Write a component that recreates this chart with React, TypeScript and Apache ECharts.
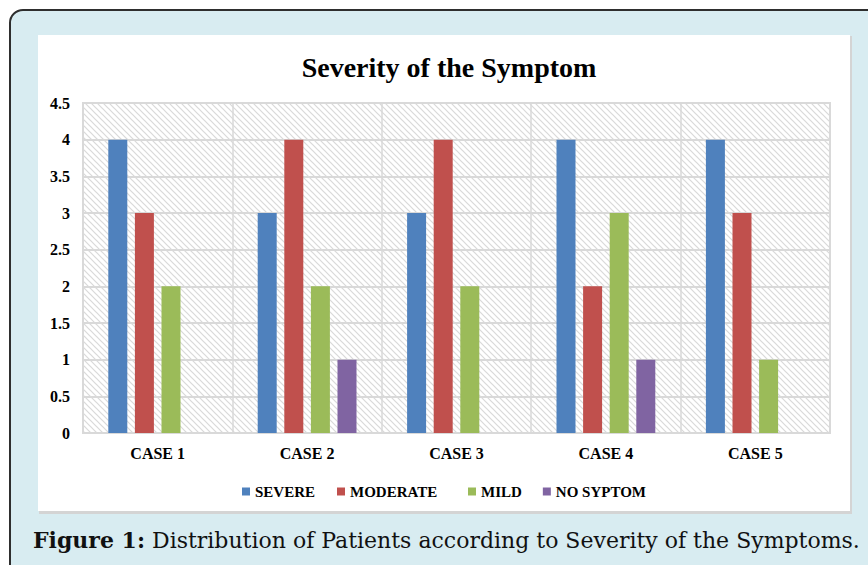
import React, { useEffect, useRef } from "react";
import * as echarts from "echarts";

const categories = ["CASE 1", "CASE 2", "CASE 3", "CASE 4", "CASE 5"];
const severe = [4, 3, 3, 4, 4];
const moderate = [3, 4, 4, 2, 3];
const mild = [2, 2, 2, 3, 1];
const noSymptom = [0, 1, 0, 1, 0];
const seriesNames = ["SEVERE", "MODERATE", "MILD", "NO SYPTOM"];
const seriesColors = ["#4f81bd", "#c0504d", "#9bbb59", "#8064a2"];
const titleText = "Severity of the Symptom";
const captionBold = "Figure 1:";
const captionRest = " Distribution of Patients according to Severity of the Symptoms.";

const hatchSvg =
  "<svg xmlns='http://www.w3.org/2000/svg' width='6' height='6'>" +
  "<rect width='6' height='6' fill='#ffffff'/>" +
  "<path d='M-1,-1 L7,7 M-1,5 L1,7 M5,-1 L7,1' stroke='#d9d9d9' stroke-width='1.2'/></svg>";
const hatchUrl = "data:image/svg+xml;charset=utf-8," + encodeURIComponent(hatchSvg);

const SERIF = "'Liberation Serif', 'Times New Roman', serif";

export default function App() {
  const ref = useRef<HTMLDivElement>(null);
  useEffect(() => {
    if (!ref.current) return;
    const chart = echarts.init(ref.current, undefined, { renderer: "svg" });
    const data = [severe, moderate, mild, noSymptom];
    const legendText = { fontFamily: SERIF, fontWeight: "bold", fontSize: 15, color: "#000" };
    chart.setOption({
      animation: false,
      backgroundColor: "#ffffff",
      title: {
        text: titleText,
        left: 444,
        top: 48,
        textAlign: "center",
        textStyle: { fontFamily: SERIF, fontWeight: "bold", fontSize: 28, color: "#000" },
      },
      legend: [
        {
          left: 237,
          top: 479,
          itemWidth: 8,
          itemHeight: 8,
          itemGap: 22,
          icon: "rect",
          textStyle: legendText,
          data: seriesNames.slice(0, 2),
        },
        {
          left: 463,
          top: 479,
          itemWidth: 8,
          itemHeight: 8,
          itemGap: 21,
          icon: "rect",
          textStyle: legendText,
          data: seriesNames.slice(2),
        },
      ],
      grid: {
        left: 83,
        top: 103,
        right: 38,
        bottom: 132,
        show: true,
        backgroundColor: { image: hatchUrl, repeat: "repeat" },
        borderColor: "#d9d9d9",
        borderWidth: 2,
        outerBoundsMode: "none",
        containLabel: false,
      },
      xAxis: {
        type: "category",
        data: categories,
        axisLine: { show: true, lineStyle: { color: "#d9d9d9", width: 2 } },
        axisTick: { show: false },
        splitLine: { show: true, lineStyle: { color: "#d9d9d9", width: 1.5 } },
        axisLabel: { fontFamily: SERIF, fontWeight: "bold", fontSize: 16, color: "#000", margin: 12 },
      },
      yAxis: {
        type: "value",
        min: 0,
        max: 4.5,
        interval: 0.5,
        axisLine: { show: false },
        axisTick: { show: false },
        splitLine: { show: true, lineStyle: { color: "#d9d9d9", width: 2 } },
        axisLabel: { fontFamily: SERIF, fontWeight: "bold", fontSize: 16, color: "#000", margin: 13 },
      },
      series: seriesNames.map((name, i) => ({
        name,
        type: "bar",
        data: data[i],
        barWidth: 19,
        barGap: "40%",
        itemStyle: { color: seriesColors[i] },
      })),
      graphic: [
        {
          type: "rect",
          z: -10,
          silent: true,
          shape: { x: 10, y: 10, width: 900, height: 620, r: 13 },
          style: { fill: "#d8ecf1", stroke: "#2e2e2e", lineWidth: 2 },
        },
        {
          type: "rect",
          z: -9,
          silent: true,
          shape: { x: 39, y: 36, width: 813, height: 478 },
          style: { fill: "#d4d4d4" },
        },
        {
          type: "rect",
          z: -8,
          silent: true,
          shape: { x: 38, y: 35, width: 812, height: 476 },
          style: { fill: "#ffffff" },
        },
        {
          type: "text",
          z: 10,
          silent: true,
          x: 33,
          y: 540,
          style: {
            text: "{b|" + captionBold + "}{n|" + captionRest + "}",
            verticalAlign: "middle",
            rich: {
              b: { fontFamily: "'DejaVu Serif', serif", fontWeight: "bold", fontSize: 22, fill: "#111" },
              n: { fontFamily: "'DejaVu Serif', serif", fontSize: 22, fill: "#111" },
            },
          },
        },
      ],
    });
    return () => chart.dispose();
  }, []);
  return (
    <div
      ref={ref}
      style={{ position: "fixed", left: 0, top: 0, width: 868, height: 565 }}
    />
  );
}
